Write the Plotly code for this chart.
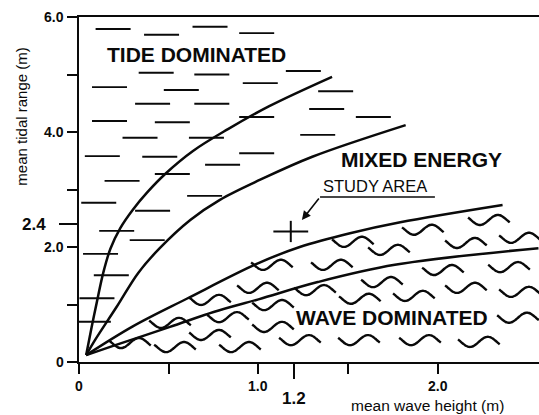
import numpy as np
import plotly.graph_objects as go

# ---------------- data ----------------
# boundary curves (mean wave height m, mean tidal range m)
tide_upper_x = [0.04, 0.07, 0.10, 0.135, 0.175, 0.23, 0.30, 0.38, 0.48, 0.635, 0.83, 1.06, 1.41]
tide_upper_y = [0.12, 0.60, 1.05, 1.55, 1.97, 2.33, 2.65, 2.95, 3.27, 3.67, 4.05, 4.45, 4.96]

tide_lower_x = [0.04, 0.089, 0.21, 0.33, 0.45, 0.62, 0.785, 1.01, 1.30, 1.82]
tide_lower_y = [0.12, 0.38, 0.96, 1.55, 1.98, 2.47, 2.82, 3.17, 3.57, 4.12]

wave_upper_x = [0.04, 0.30, 0.60, 1.00, 1.23, 1.51, 1.79, 2.36]
wave_upper_y = [0.12, 0.62, 1.10, 1.72, 2.00, 2.24, 2.43, 2.73]

wave_lower_x = [0.04, 0.19, 0.507, 0.75, 1.00, 1.33, 1.76, 2.56]
wave_lower_y = [0.12, 0.28, 0.61, 0.87, 1.09, 1.39, 1.69, 1.98]

# short dashes filling the tide dominated field (centres)
dash_x = [0.19, 0.46, 0.73, 0.99, 0.43, 0.74, 1.01, 1.25, 0.17, 0.57, 1.43,
          0.41, 0.74, 1.38, 0.17, 0.52, 0.99, 1.64, 0.34, 0.71, 1.33, 0.13,
          0.45, 0.99, 0.80, 0.24, 0.52, 0.70, 0.11, 0.41, 0.21, 0.38, 0.12,
          0.18, 0.10, 0.08]
dash_y = [5.79, 5.69, 5.83, 5.72, 5.03, 5.00, 4.85, 5.06, 4.78, 4.73, 4.71,
          4.49, 4.49, 4.40, 4.19, 4.17, 4.26, 4.26, 3.90, 3.90, 3.95, 3.58,
          3.57, 3.63, 3.43, 3.15, 3.27, 2.89, 2.77, 2.63, 2.28, 2.12, 1.88,
          1.51, 1.11, 0.70]

# wavy symbols filling the wave dominated field (centres)
wave_sym_x = [0.284, 0.507, 0.535, 0.730, 0.730, 0.830, 0.897, 0.997, 1.075,
              1.081, 1.081, 1.231, 1.315, 1.409, 1.526, 1.565, 1.560, 1.688,
              1.727, 1.916, 2.284, 2.156, 2.457, 2.028, 2.396, 1.866, 2.156,
              2.457, 2.446, 1.900, 2.228]
wave_sym_y = [0.33, 0.68, 0.26, 1.08, 0.47, 0.78, 0.26, 1.29, 1.69, 0.99,
              0.61, 0.38, 1.25, 1.69, 2.09, 1.10, 0.38, 1.39, 1.95, 2.30,
              2.47, 2.07, 2.16, 1.60, 1.65, 1.15, 1.29, 1.22, 0.77, 0.38, 0.35]

# study area
study_x = [1.18]
study_y = [2.27]
study_leader_x = [1.983, 1.343]
study_leader_y = [2.87, 2.87]
study_arrow_tip = (1.242, 2.47)
study_label_pos = (1.649, 3.06)

# regime labels
regime_text = ["TIDE DOMINATED", "MIXED ENERGY", "WAVE DOMINATED"]
regime_x = [0.652, 1.91, 1.744]
regime_y = [5.34, 3.52, 0.775]

# axes
x_ticks = [0, 0.5, 1.0, 1.5, 2.0]
x_ticks_special = [1.2]
x_label_vals = [0, 1.0, 2.0]
x_label_text = ["0", "1.0", "2.0"]
x_special_text = ["1.2"]

y_ticks = [0, 1, 2, 3, 4, 5, 6]
y_ticks_special = [2.4]
y_label_vals = [0, 2.0, 4.0, 6.0]
y_label_text = ["0", "2.0", "4.0", "6.0"]
y_special_text = ["2.4"]

X_MAX = 2.563
Y_MAX = 6.0

FONT = "Liberation Sans, Arial, sans-serif"
INK = "#0a0a0a"

fig = go.Figure()

# boundary curves
for cx, cy in [(tide_upper_x, tide_upper_y), (tide_lower_x, tide_lower_y),
               (wave_upper_x, wave_upper_y), (wave_lower_x, wave_lower_y)]:
    fig.add_trace(go.Scatter(x=cx, y=cy, mode="lines",
                             line=dict(color=INK, width=2.5, shape="spline", smoothing=1.0),
                             hoverinfo="skip", showlegend=False))

# dashes (tide symbol)
fig.add_trace(go.Scatter(x=dash_x, y=dash_y, mode="markers",
                         marker=dict(symbol="line-ew", size=25,
                                     line=dict(color=INK, width=1.9)),
                         hoverinfo="skip", showlegend=False))

# wave symbols: small sine glyph around each centre
glyph_w = 0.20   # data units along x (glyph period)
glyph_a = 0.088  # data units along y (amplitude)
u = np.linspace(-0.08, 1.08, 31)
wx, wy = [], []
for cx, cy in zip(wave_sym_x, wave_sym_y):
    wx.extend(list(cx + (u - 0.5) * glyph_w) + [None])
    wy.extend(list(cy - glyph_a * np.sin(2 * np.pi * u)) + [None])
fig.add_trace(go.Scatter(x=wx, y=wy, mode="lines",
                         line=dict(color=INK, width=2.4, shape="spline"),
                         hoverinfo="skip", showlegend=False))

# study area cross
hx, hy = 0.097, 0.185
cross_x, cross_y = [], []
for sx, sy in zip(study_x, study_y):
    cross_x += [sx - hx, sx + hx, None, sx, sx]
    cross_y += [sy, sy, None, sy - hy, sy + hy]
fig.add_trace(go.Scatter(x=cross_x, y=cross_y, mode="lines",
                         line=dict(color=INK, width=2),
                         hoverinfo="skip", showlegend=False))

# leader underline
fig.add_trace(go.Scatter(x=study_leader_x, y=study_leader_y, mode="lines",
                         line=dict(color=INK, width=1.6),
                         hoverinfo="skip", showlegend=False))

annotations = []
# leader arrow
annotations.append(dict(x=study_arrow_tip[0], y=study_arrow_tip[1], xref="x", yref="y",
                        ax=study_leader_x[1], ay=study_leader_y[1], axref="x", ayref="y",
                        text="", showarrow=True, arrowhead=2, arrowsize=1.1,
                        arrowwidth=1.6, arrowcolor=INK))
annotations.append(dict(x=study_label_pos[0], y=study_label_pos[1],
                        xref="x", yref="y", xanchor="center", yanchor="middle",
                        text="STUDY AREA", showarrow=False,
                        font=dict(family=FONT, size=16.5, color=INK)))

for t, x, y in zip(regime_text, regime_x, regime_y):
    annotations.append(dict(x=x, y=y, xref="x", yref="y", xanchor="center", yanchor="middle",
                            text="<b>%s</b>" % t, showarrow=False,
                            font=dict(family=FONT, size=21, color=INK)))

# tick labels
for v, t in zip(x_label_vals, x_label_text):
    annotations.append(dict(x=v, y=0, xref="x", yref="paper", xanchor="center",
                            yanchor="top", yshift=-14,
                            text="<b>%s</b>" % t, showarrow=False,
                            font=dict(family=FONT, size=14, color=INK)))
for v, t in zip(x_ticks_special, x_special_text):
    annotations.append(dict(x=v, y=0, xref="x", yref="paper", xanchor="center",
                            yanchor="top", yshift=-25,
                            text="<b>%s</b>" % t, showarrow=False,
                            font=dict(family=FONT, size=17, color=INK)))
for v, t in zip(y_label_vals, y_label_text):
    annotations.append(dict(x=0, y=v, xref="paper", yref="y", xanchor="right",
                            yanchor="middle", xshift=-13,
                            text="<b>%s</b>" % t, showarrow=False,
                            font=dict(family=FONT, size=14, color=INK)))
for v, t in zip(y_ticks_special, y_special_text):
    annotations.append(dict(x=0, y=v, xref="paper", yref="y", xanchor="right",
                            yanchor="middle", xshift=-31,
                            text="<b>%s</b>" % t, showarrow=False,
                            font=dict(family=FONT, size=17, color=INK)))

# axis titles
annotations.append(dict(x=(427 - 79) / 460, y=-0.1275, xref="paper", yref="paper",
                        xanchor="center", yanchor="middle",
                        text="mean wave height (m)", showarrow=False,
                        font=dict(family=FONT, size=15.5, color=INK)))
annotations.append(dict(x=-0.127, y=0.71, xref="paper", yref="paper", textangle=-90,
                        xanchor="center", yanchor="middle",
                        text="mean tidal range (m)", showarrow=False,
                        font=dict(family=FONT, size=15, color=INK)))

fig.update_layout(
    width=539, height=415,
    margin=dict(l=79, r=0, t=17, b=53),
    paper_bgcolor="white", plot_bgcolor="white",
    showlegend=False,
    annotations=annotations,
    xaxis=dict(range=[0, X_MAX], showgrid=False, zeroline=False,
               showline=True, linecolor=INK, linewidth=2.4, mirror=True,
               ticks="outside", tickvals=x_ticks, ticklen=10, tickwidth=2, tickcolor=INK,
               showticklabels=False,
               minor=dict(tickvals=x_ticks_special, ticks="outside", ticklen=15,
                          tickwidth=2, tickcolor=INK, showgrid=False)),
    yaxis=dict(range=[0, Y_MAX], showgrid=False, zeroline=False,
               showline=True, linecolor=INK, linewidth=2.4, mirror=False,
               ticks="outside", tickvals=y_ticks, ticklen=10, tickwidth=2, tickcolor=INK,
               showticklabels=False,
               minor=dict(tickvals=y_ticks_special, ticks="outside", ticklen=18,
                          tickwidth=2, tickcolor=INK, showgrid=False)),
)

# remove the default page margin so the figure fills the window exactly
fig.write_html("out.html",
               config={"displayModeBar": False},
               post_script="document.body.style.margin='0';document.body.style.overflow='hidden';")
